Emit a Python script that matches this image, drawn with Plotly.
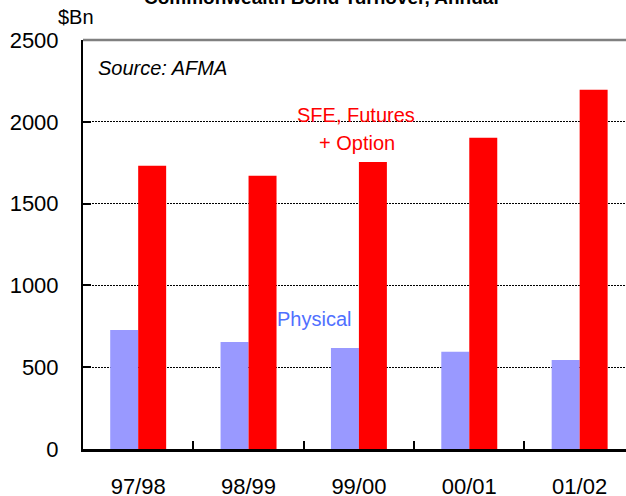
import plotly.graph_objects as go

# Commonwealth bond turnover by financial year ($ billion)
years = ["97/98", "98/99", "99/00", "00/01", "01/02"]
physical = [728, 654, 618, 594, 544]
sfe_futures_option = [1731, 1670, 1755, 1902, 2196]
y_ticks = [0, 500, 1000, 1500, 2000, 2500]

FONT = "Liberation Sans, Arial, sans-serif"
W, H = 626, 496
M_L, M_R, M_T, M_B = 83, 0, 40, 47
plot_h = H - M_T - M_B


def py(pix):
    """Convert a pixel row (from top) to paper y."""
    return (H - M_B - pix) / plot_h


def px(pix):
    """Convert a pixel column (from left) to paper x."""
    return (pix - M_L) / (W - M_L - M_R)


fig = go.Figure()
fig.add_trace(go.Bar(x=years, y=physical, name="Physical",
                     marker=dict(color="#9999FF", line=dict(width=0))))
fig.add_trace(go.Bar(x=years, y=sfe_futures_option, name="SFE, Futures + Option",
                     marker=dict(color="#FF0000", line=dict(width=0))))

fig.update_layout(
    width=W, height=H,
    margin=dict(l=M_L, r=M_R, t=M_T, b=M_B),
    paper_bgcolor="white", plot_bgcolor="white",
    barmode="group", bargap=0.493, bargroupgap=0,
    showlegend=False,
    font=dict(family=FONT, size=20, color="black"),
)

fig.update_xaxes(
    type="category", range=[-0.5, 4.42], automargin=False,
    showline=True, linecolor="black", linewidth=2.5,
    ticks="inside", tickson="boundaries", ticklen=8, tickwidth=2, tickcolor="black",
    ticklabelstandoff=16,
    tickfont=dict(family=FONT, size=22, color="black"),
    showgrid=False, zeroline=False,
)
fig.update_yaxes(
    range=[0, 2500], tickvals=y_ticks, ticktext=[str(v) for v in y_ticks],
    automargin=False,
    showline=True, linecolor="black", linewidth=2,
    ticks="inside", ticklen=8, tickwidth=2, tickcolor="black",
    ticklabelstandoff=18,
    tickfont=dict(family=FONT, size=22, color="black"),
    showgrid=True, gridcolor="black", gridwidth=1, griddash="2px,1px",
    zeroline=False,
)

# grey top border of the plotting area
fig.add_shape(type="line", xref="paper", yref="paper", x0=0, x1=1, y0=1, y1=1,
              line=dict(color="#808080", width=2.5))

annotations = [
    dict(text="<b>Commonwealth Bond Turnover, Annual</b>", x=px(321), y=py(-3),
         xanchor="center", yanchor="middle", font=dict(size=19, color="black")),
    dict(text="$Bn", x=px(56), y=py(17), xanchor="left", yanchor="middle",
         font=dict(size=20, color="black")),
    dict(text="<i>Source: AFMA</i>", x=px(96), y=py(68), xanchor="left", yanchor="middle",
         font=dict(size=20, color="black")),
    dict(text="SFE, Futures", x=px(356), y=py(115), xanchor="center", yanchor="middle",
         font=dict(size=20, color="#FF0000")),
    dict(text="+ Option", x=px(356.5), y=py(143), xanchor="center", yanchor="middle",
         font=dict(size=20, color="#FF0000")),
    dict(text="Physical", x=px(314), y=py(319), xanchor="center", yanchor="middle",
         font=dict(size=20, color="#5070FF")),
]
for a in annotations:
    fig.add_annotation(xref="paper", yref="paper", showarrow=False, **a)

fig.write_html("out.html")
